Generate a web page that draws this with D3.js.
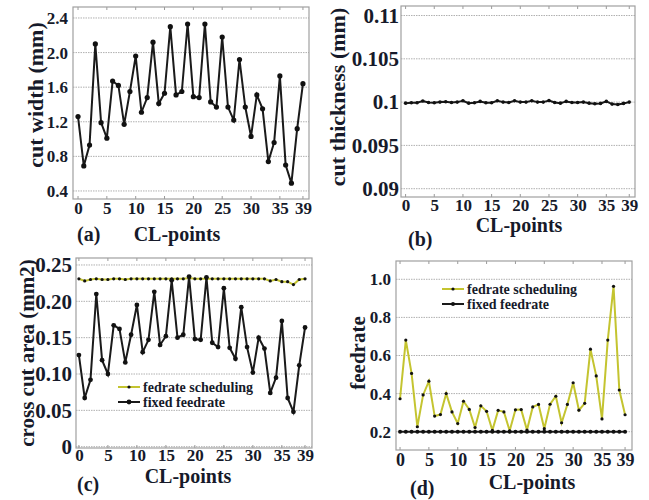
<!DOCTYPE html>
<html>
<head>
<meta charset="utf-8">
<script src="https://d3js.org/d3.v7.min.js"></script>
<style>
  body { margin: 0; background: #fff; }
  text { font-family: "Times New Roman", "Liberation Serif", serif; font-weight: bold; fill: #161a2a; }
</style>
</head>
<body>
<div class="chart"></div>
<script>
const w = 649;
const h = 500;

// data
const clPoints = d3.range(40);
const xTicks = [0, 5, 10, 15, 20, 25, 30, 35, 39];

const cutWidth = [1.26, 0.69, 0.93, 2.10, 1.19, 1.01, 1.67, 1.62, 1.17, 1.55,
                  1.96, 1.31, 1.48, 2.12, 1.41, 1.53, 2.30, 1.51, 1.55, 2.33,
                  1.49, 1.48, 2.33, 1.43, 1.37, 2.18, 1.37, 1.22, 1.92, 1.37,
                  1.03, 1.51, 1.35, 0.74, 0.96, 1.73, 0.70, 0.49, 1.12, 1.64];

const cutThickness = [0.09988, 0.09992, 0.09992, 0.10012, 0.09996, 0.09992, 0.10000, 0.10004, 0.09996, 0.10000,
                      0.10015, 0.09988, 0.09992, 0.10008, 0.09992, 0.09992, 0.10015, 0.10000, 0.09996, 0.10015,
                      0.10000, 0.10000, 0.10015, 0.10000, 0.10000, 0.10019, 0.09996, 0.09988, 0.10008, 0.09996,
                      0.09996, 0.10000, 0.09988, 0.09981, 0.09985, 0.10008, 0.09977, 0.09973, 0.09985, 0.10000];

const areaScheduling = [0.231, 0.228, 0.230, 0.231, 0.230, 0.230, 0.231, 0.231, 0.230, 0.231,
                        0.231, 0.231, 0.231, 0.231, 0.231, 0.231, 0.231, 0.231, 0.231, 0.232,
                        0.231, 0.231, 0.231, 0.231, 0.231, 0.231, 0.231, 0.231, 0.231, 0.231,
                        0.231, 0.231, 0.231, 0.228, 0.230, 0.227, 0.227, 0.223, 0.230, 0.231];

const areaFixed = [0.126, 0.067, 0.092, 0.210, 0.119, 0.100, 0.167, 0.162, 0.116, 0.154,
                   0.195, 0.130, 0.147, 0.213, 0.140, 0.152, 0.229, 0.150, 0.154, 0.234,
                   0.148, 0.147, 0.233, 0.143, 0.137, 0.218, 0.136, 0.121, 0.192, 0.137,
                   0.102, 0.150, 0.135, 0.074, 0.095, 0.173, 0.067, 0.048, 0.112, 0.164];

const feedScheduling = [0.373, 0.681, 0.506, 0.226, 0.393, 0.465, 0.282, 0.290, 0.400, 0.304,
                        0.243, 0.360, 0.317, 0.222, 0.336, 0.307, 0.207, 0.312, 0.304, 0.205,
                        0.315, 0.316, 0.209, 0.330, 0.343, 0.216, 0.344, 0.386, 0.247, 0.343,
                        0.457, 0.313, 0.349, 0.633, 0.493, 0.267, 0.681, 0.963, 0.419, 0.289];

const feedFixed = clPoints.map(() => 0.2);

const legendNames = ["fedrate scheduling", "fixed feedrate"];

const yTicksA = [0.4, 0.8, 1.2, 1.6, 2.0, 2.4];
const yTicksB = [0.09, 0.095, 0.1, 0.105, 0.11];
const yLabelsB = ["0.09", "0.095", "0.1", "0.105", "0.11"];
const yTicksC = [0, 0.05, 0.10, 0.15, 0.20, 0.25];
const yLabelsC = ["0", "0.05", "0.10", "0.15", "0.20", "0.25"];
const yTicksD = [0.2, 0.4, 0.6, 0.8, 1.0];

const yellow = "#c4c430";

const svg = d3.select(".chart")
              .append("svg")
              .attr("width", w)
              .attr("height", h);

function drawPanel(p) {
  const x = d3.scaleLinear().domain(p.xDom).range([p.box[0], p.box[2]]);
  const y = d3.scaleLinear().domain(p.yDom).range([p.box[3], p.box[1]]);
  const g = svg.append("g");

  // gridlines
  g.selectAll(".grid")
   .data(p.yTicks)
   .enter()
   .append("line")
   .attr("x1", p.box[0])
   .attr("x2", p.box[2])
   .attr("y1", d => y(d))
   .attr("y2", d => y(d))
   .attr("stroke", "#b0b0b0")
   .attr("stroke-width", 1)
   .attr("stroke-dasharray", "1.5,1");

  // axes
  const xAxis = d3.axisBottom(x).tickValues(xTicks).tickSize(0).tickPadding(p.xPad).tickFormat(d => d);
  const gx = g.append("g")
              .attr("transform", "translate(0," + p.box[3] + ")")
              .call(xAxis);
  gx.select(".domain").remove();
  gx.selectAll("text").style("font-size", p.xFont + "px").attr("fill", "#161a2a");

  const yAxis = d3.axisLeft(y).tickValues(p.yTicks).tickSize(0).tickPadding(p.yPad)
                  .tickFormat((d, i) => p.yLabels ? p.yLabels[i] : d3.format(".1f")(d));
  const gy = g.append("g")
              .attr("transform", "translate(" + p.box[0] + ",0)")
              .call(yAxis);
  gy.select(".domain").remove();
  gy.selectAll("text").style("font-size", p.yFont + "px").attr("fill", "#161a2a");

  // inner tick marks top and bottom
  [p.box[1], p.box[3]].forEach((yy, k) => {
    g.selectAll(".tk" + k)
     .data(xTicks)
     .enter()
     .append("line")
     .attr("x1", d => x(d))
     .attr("x2", d => x(d))
     .attr("y1", yy)
     .attr("y2", k === 0 ? yy + 3 : yy - 3)
     .attr("stroke", "#999");
  });

  // frame
  g.append("rect")
   .attr("x", p.box[0])
   .attr("y", p.box[1])
   .attr("width", p.box[2] - p.box[0])
   .attr("height", p.box[3] - p.box[1])
   .attr("fill", "none")
   .attr("stroke", "#a0a0a0")
   .attr("stroke-width", 1.2);

  // series
  p.series.forEach(s => {
    const line = d3.line().x((d, i) => x(i)).y(d => y(d));
    g.append("path")
     .datum(s.values)
     .attr("d", line)
     .attr("fill", "none")
     .attr("stroke", s.color)
     .attr("stroke-width", 2);
    g.selectAll(null)
     .data(s.values)
     .enter()
     .append("circle")
     .attr("cx", (d, i) => x(i))
     .attr("cy", d => y(d))
     .attr("r", s.r)
     .attr("fill", "#111");
  });

  // legend
  if (p.legend) {
    p.series.forEach((s, i) => {
      const ly = p.legend.y + i * p.legend.dy;
      g.append("line")
       .attr("x1", p.legend.x)
       .attr("x2", p.legend.x + 22)
       .attr("y1", ly)
       .attr("y2", ly)
       .attr("stroke", s.color)
       .attr("stroke-width", 2);
      g.append("circle")
       .attr("cx", p.legend.x + 11)
       .attr("cy", ly)
       .attr("r", s.r)
       .attr("fill", "#111");
      g.append("text")
       .attr("x", p.legend.x + 25)
       .attr("y", ly)
       .attr("dy", "0.33em")
       .style("font-size", "14px")
       .text(legendNames[i]);
    });
  }

  // titles
  g.append("text")
   .attr("transform", "translate(" + p.yTitle[0] + "," + p.yTitle[1] + ") rotate(-90)")
   .attr("text-anchor", "middle")
   .attr("dy", "0.35em")
   .style("font-size", p.yTitleFont + "px")
   .text(p.yTitleText);

  g.append("text")
   .attr("x", p.xTitle[0])
   .attr("y", p.xTitle[1])
   .attr("text-anchor", "middle")
   .style("font-size", "20px")
   .text("CL-points");

  g.append("text")
   .attr("x", p.tag[0])
   .attr("y", p.tag[1])
   .style("font-size", "20px")
   .text(p.tagText);
}

drawPanel({
  box: [73, 7, 309, 199], xDom: [-0.87, 40.05], yDom: [0.307, 2.527],
  yTicks: yTicksA, xFont: 17, yFont: 17, xPad: 3, yPad: 5,
  series: [{ values: cutWidth, color: "#1a1a1a", r: 2.6 }],
  yTitle: [35, 95], yTitleFont: 22, yTitleText: "cut width (mm)",
  xTitle: [177, 241], tag: [77, 241], tagText: "(a)"
});

drawPanel({
  box: [401, 6, 635, 197], xDom: [-0.8, 40.0], yDom: [0.08904, 0.1111],
  yTicks: yTicksB, yLabels: yLabelsB, xFont: 17, yFont: 21, xPad: 2, yPad: 2,
  series: [{ values: cutThickness, color: "#1a1a1a", r: 1.8 }],
  yTitle: [337, 97], yTitleFont: 22, yTitleText: "cut thickness (mm)",
  xTitle: [519, 232], tag: [408, 246], tagText: "(b)"
});

drawPanel({
  box: [76, 258, 312, 448], xDom: [-0.5, 40.2], yDom: [-0.0018, 0.2596],
  yTicks: yTicksC, yLabels: yLabelsC, xFont: 17, yFont: 21, xPad: 1, yPad: 4,
  series: [{ values: areaScheduling, color: yellow, r: 1.6 },
           { values: areaFixed, color: "#1a1a1a", r: 2.4 }],
  legend: { x: 118, y: 387, dy: 15 },
  yTitle: [27, 353], yTitleFont: 21, yTitleText: "cross cut area (mm2)",
  xTitle: [188, 483], tag: [77, 491], tagText: "(c)"
});

drawPanel({
  box: [396, 261, 632, 450], xDom: [-0.7, 40.2], yDom: [0.104, 1.096],
  yTicks: yTicksD, xFont: 18, yFont: 17, xPad: 3, yPad: 5,
  series: [{ values: feedScheduling, color: yellow, r: 1.6 },
           { values: feedFixed, color: "#1a1a1a", r: 2.0 }],
  legend: { x: 442, y: 289, dy: 15 },
  yTitle: [358, 353], yTitleFont: 21, yTitleText: "feedrate",
  xTitle: [532, 489], tag: [410, 495], tagText: "(d)"
});
</script>
</body>
</html>
